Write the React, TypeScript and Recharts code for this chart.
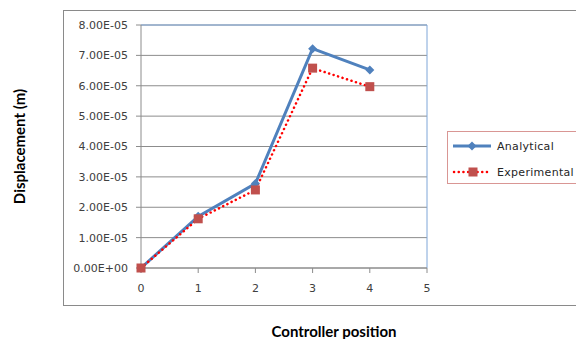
import React from 'react';
import { LineChart, Line, XAxis, YAxis, CartesianGrid, Legend, ReferenceLine } from 'recharts';

const positions = [0, 1, 2, 3, 4];
const analytical = [0, 1.7e-5, 2.78e-5, 7.22e-5, 6.52e-5];
const experimental = [0, 1.62e-5, 2.57e-5, 6.58e-5, 5.97e-5];
const xTicks = [0, 1, 2, 3, 4, 5];
const yTicks = [0, 1e-5, 2e-5, 3e-5, 4e-5, 5e-5, 6e-5, 7e-5, 8e-5];
const yTickLabels = ['0.00E+00', '1.00E-05', '2.00E-05', '3.00E-05', '4.00E-05', '5.00E-05', '6.00E-05', '7.00E-05', '8.00E-05'];

const data = positions.map((p, i) => ({ pos: p, Analytical: analytical[i], Experimental: experimental[i] }));

const BLUE = '#4f81bd';
const RED_LINE = '#ff0000';
const RED_MARK = '#c0504d';
const TICK_FONT = { fontFamily: 'DejaVu Sans', fontSize: 11, fill: '#404040' };
const TITLE_FONT = { fontFamily: 'Lato', fontSize: 15, fontWeight: 700, fill: '#000' };

const Diamond = (props: any) => {
  const { cx, cy, r = 4.5, fill } = props;
  if (cx == null || cy == null) return null;
  return <polygon points={`${cx},${cy - r} ${cx + r},${cy} ${cx},${cy + r} ${cx - r},${cy}`} fill={fill} />;
};
const Square = (props: any) => {
  const { cx, cy, s = 9, fill } = props;
  if (cx == null || cy == null) return null;
  return <rect x={cx - s / 2} y={cy - s / 2} width={s} height={s} fill={fill} />;
};

const LegendContent = (props: any) => {
  const { payload = [] } = props;
  return (
    <div
      style={{
        border: '1px solid #d99694',
        borderRight: 'none',
        width: 129,
        height: 51,
        boxSizing: 'content-box',
        position: 'relative',
        fontFamily: 'DejaVu Sans',
        fontSize: 11,
        color: '#262626',
      }}
    >
      {payload.map((entry: any, i: number) => {
        const isA = entry.dataKey === 'Analytical';
        const top = i === 0 ? 6 : 32;
        return (
          <div key={entry.dataKey} style={{ position: 'absolute', left: 0, top, height: 16, display: 'flex', alignItems: 'center' }}>
            <svg width={46} height={16} style={{ display: 'block' }}>
              {isA ? (
                <>
                  <line x1={5} y1={8} x2={43} y2={8} stroke={BLUE} strokeWidth={3} />
                  <Diamond cx={24} cy={8} r={4.5} fill={BLUE} />
                </>
              ) : (
                <>
                  <line x1={6} y1={8} x2={43} y2={8} stroke={RED_LINE} strokeWidth={2.5} strokeDasharray="0.1 4.6" strokeLinecap="round" />
                  <Square cx={25} cy={8} s={9} fill={RED_MARK} />
                </>
              )}
            </svg>
            <span style={{ marginLeft: 3, whiteSpace: 'nowrap', letterSpacing: 0.3 }}>{entry.value}</span>
          </div>
        );
      })}
    </div>
  );
};

export default function App() {
  return (
    <div style={{ position: 'absolute', left: 0, top: 0, width: 576, height: 339, overflow: 'hidden', background: '#fff' }}>
      <div
        style={{
          position: 'absolute',
          left: 63,
          top: 10,
          width: 600,
          height: 296,
          border: '1px solid #8a8a8a',
          borderRight: 'none',
          boxSizing: 'border-box',
        }}
      />
      <div style={{ position: 'absolute', left: 0, top: 0 }}>
        <LineChart width={576} height={339} data={data} margin={{ top: 25, right: 19, bottom: 11, left: 0 }}>
          <CartesianGrid vertical={false} stroke="#8c8c8c" strokeWidth={1} />
          <XAxis
            dataKey="pos"
            type="number"
            domain={[0, 5]}
            ticks={xTicks}
            height={60}
            tick={TICK_FONT}
            tickSize={5}
            tickMargin={11}
            axisLine={{ stroke: '#8c8c8c' }}
            tickLine={{ stroke: '#8c8c8c' }}
            label={{ value: 'Controller position', position: 'insideBottom', offset: -9, dx: 50, style: TITLE_FONT }}
          />
          <YAxis
            type="number"
            domain={[0, 8e-5]}
            ticks={yTicks}
            width={141}
            tick={TICK_FONT}
            tickFormatter={(v: number) => {
              const idx = yTicks.findIndex((t) => Math.abs(t - v) < 1e-12);
              return idx >= 0 ? yTickLabels[idx] : String(v);
            }}
            tickSize={5}
            tickMargin={8}
            axisLine={{ stroke: '#8c8c8c' }}
            tickLine={{ stroke: '#8c8c8c' }}
            label={{ value: 'Displacement (m)', angle: -90, position: 'insideLeft', offset: 20, style: { ...TITLE_FONT, textAnchor: 'middle' } }}
          />
          <ReferenceLine y={8e-5} stroke="#7ea6d8" strokeWidth={1} />
          <ReferenceLine x={5} stroke="#7ea6d8" strokeWidth={1} />
          <Legend
            layout="vertical"
            align="right"
            verticalAlign="top"
            content={<LegendContent />}
            wrapperStyle={{ left: 447, top: 131, width: 130, right: 'auto' }}
          />
          <Line
            dataKey="Analytical"
            stroke={BLUE}
            strokeWidth={3}
            dot={<Diamond r={4.5} fill={BLUE} />}
            activeDot={false}
            isAnimationActive={false}
          />
          <Line
            dataKey="Experimental"
            stroke={RED_LINE}
            strokeWidth={2.5}
            strokeDasharray="0.1 4.6"
            strokeLinecap="round"
            dot={<Square s={9} fill={RED_MARK} />}
            activeDot={false}
            isAnimationActive={false}
          />
        </LineChart>
      </div>
    </div>
  );
}
